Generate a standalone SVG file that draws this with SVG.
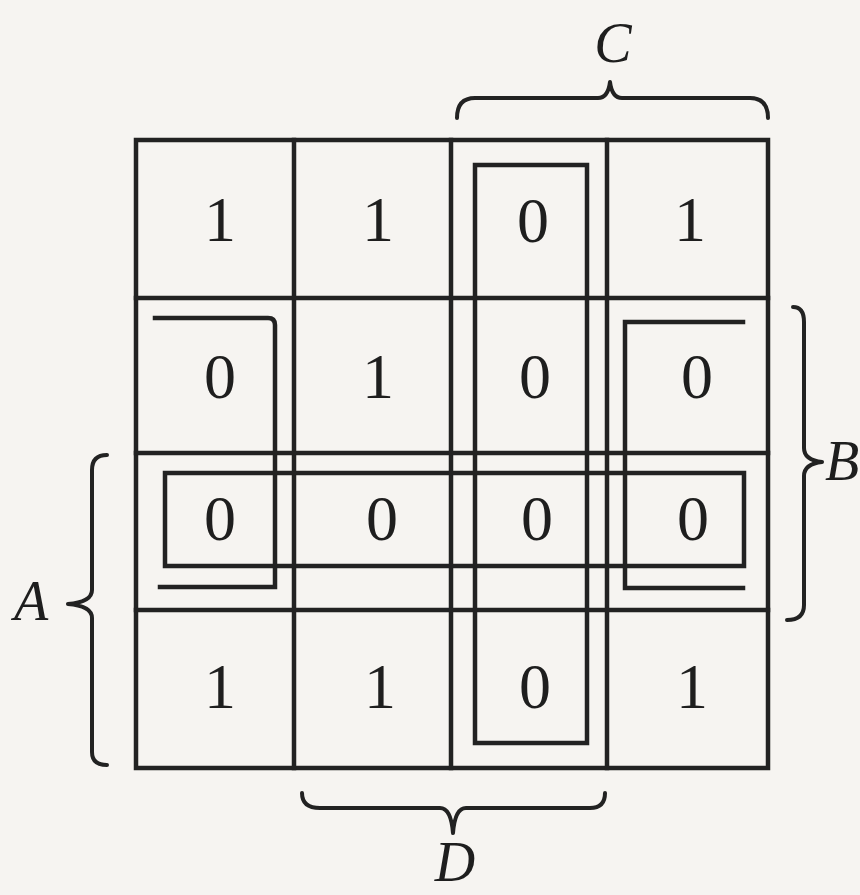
<svg xmlns="http://www.w3.org/2000/svg" width="860" height="895" viewBox="0 0 860 895">
<style>
.ln{fill:none;stroke:#222;stroke-width:4.5;stroke-linecap:square}
.br{fill:none;stroke:#222;stroke-width:4;stroke-linecap:round;stroke-linejoin:round}
.d{font-family:"Liberation Serif","Times New Roman",serif;font-size:64px;fill:#1e1e1e;text-anchor:middle}
.lb{font-family:"Liberation Serif","Times New Roman",serif;font-style:italic;font-size:56px;fill:#1e1e1e}
</style>
<rect width="860" height="895" fill="#f6f4f1"/>
<g id="grid">
<rect class="ln" x="136" y="140" width="632" height="628"/>
<line class="ln" x1="294" y1="140" x2="294" y2="768"/>
<line class="ln" x1="451" y1="140" x2="451" y2="768"/>
<line class="ln" x1="607" y1="140" x2="607" y2="768"/>
<line class="ln" x1="136" y1="298" x2="768" y2="298"/>
<line class="ln" x1="136" y1="453" x2="768" y2="453"/>
<line class="ln" x1="136" y1="610" x2="768" y2="610"/>
</g>
<g id="cells">
<text class="d" x="220" y="241">1</text>
<text class="d" x="378" y="241">1</text>
<text class="d" x="533" y="242">0</text>
<text class="d" x="690" y="241">1</text>
<text class="d" x="220" y="398">0</text>
<text class="d" x="378" y="398">1</text>
<text class="d" x="535" y="398">0</text>
<text class="d" x="697" y="398">0</text>
<text class="d" x="220" y="540">0</text>
<text class="d" x="382" y="540">0</text>
<text class="d" x="537" y="540">0</text>
<text class="d" x="693" y="540">0</text>
<text class="d" x="220" y="708">1</text>
<text class="d" x="380" y="708">1</text>
<text class="d" x="535" y="708">0</text>
<text class="d" x="692" y="708">1</text>
</g>
<g id="loops">
<rect class="ln" x="475" y="165" width="112" height="578"/>
<rect class="ln" x="165" y="473" width="579" height="93"/>
<path class="ln" d="M155,318 L268,318 Q275,318 275,325 L275,587 L160,587"/>
<path class="ln" d="M743,322 L625,322 L625,588 L743,588"/>
</g>
<g id="braces">
<path class="br" d="M457,118 Q457,98 475,98 L598,98 Q608,98 610,82 Q612,98 622,98 L750,98 Q768,98 768,118"/>
<path class="br" d="M302,793 Q302,808 320,808 L440,808 Q451,808 453,833 Q455,808 466,808 L590,808 Q605,808 605,793"/>
<path class="br" d="M107,455 Q92,455 92,470 L92,590 Q92,602 68,604 Q92,606 92,618 L92,752 Q92,765 107,765"/>
<path class="br" d="M793,307 Q804,307 804,322 L804,448 Q804,460 822,462 Q804,464 804,476 L804,605 Q804,620 787,620"/>
</g>
<g id="labels">
<text class="lb" x="613" y="62" text-anchor="middle">C</text>
<text class="lb" x="14" y="620">A</text>
<text class="lb" x="825" y="480" font-size="48">B</text>
<text class="lb" x="455" y="881" text-anchor="middle" font-size="50">D</text>
</g>
</svg>
